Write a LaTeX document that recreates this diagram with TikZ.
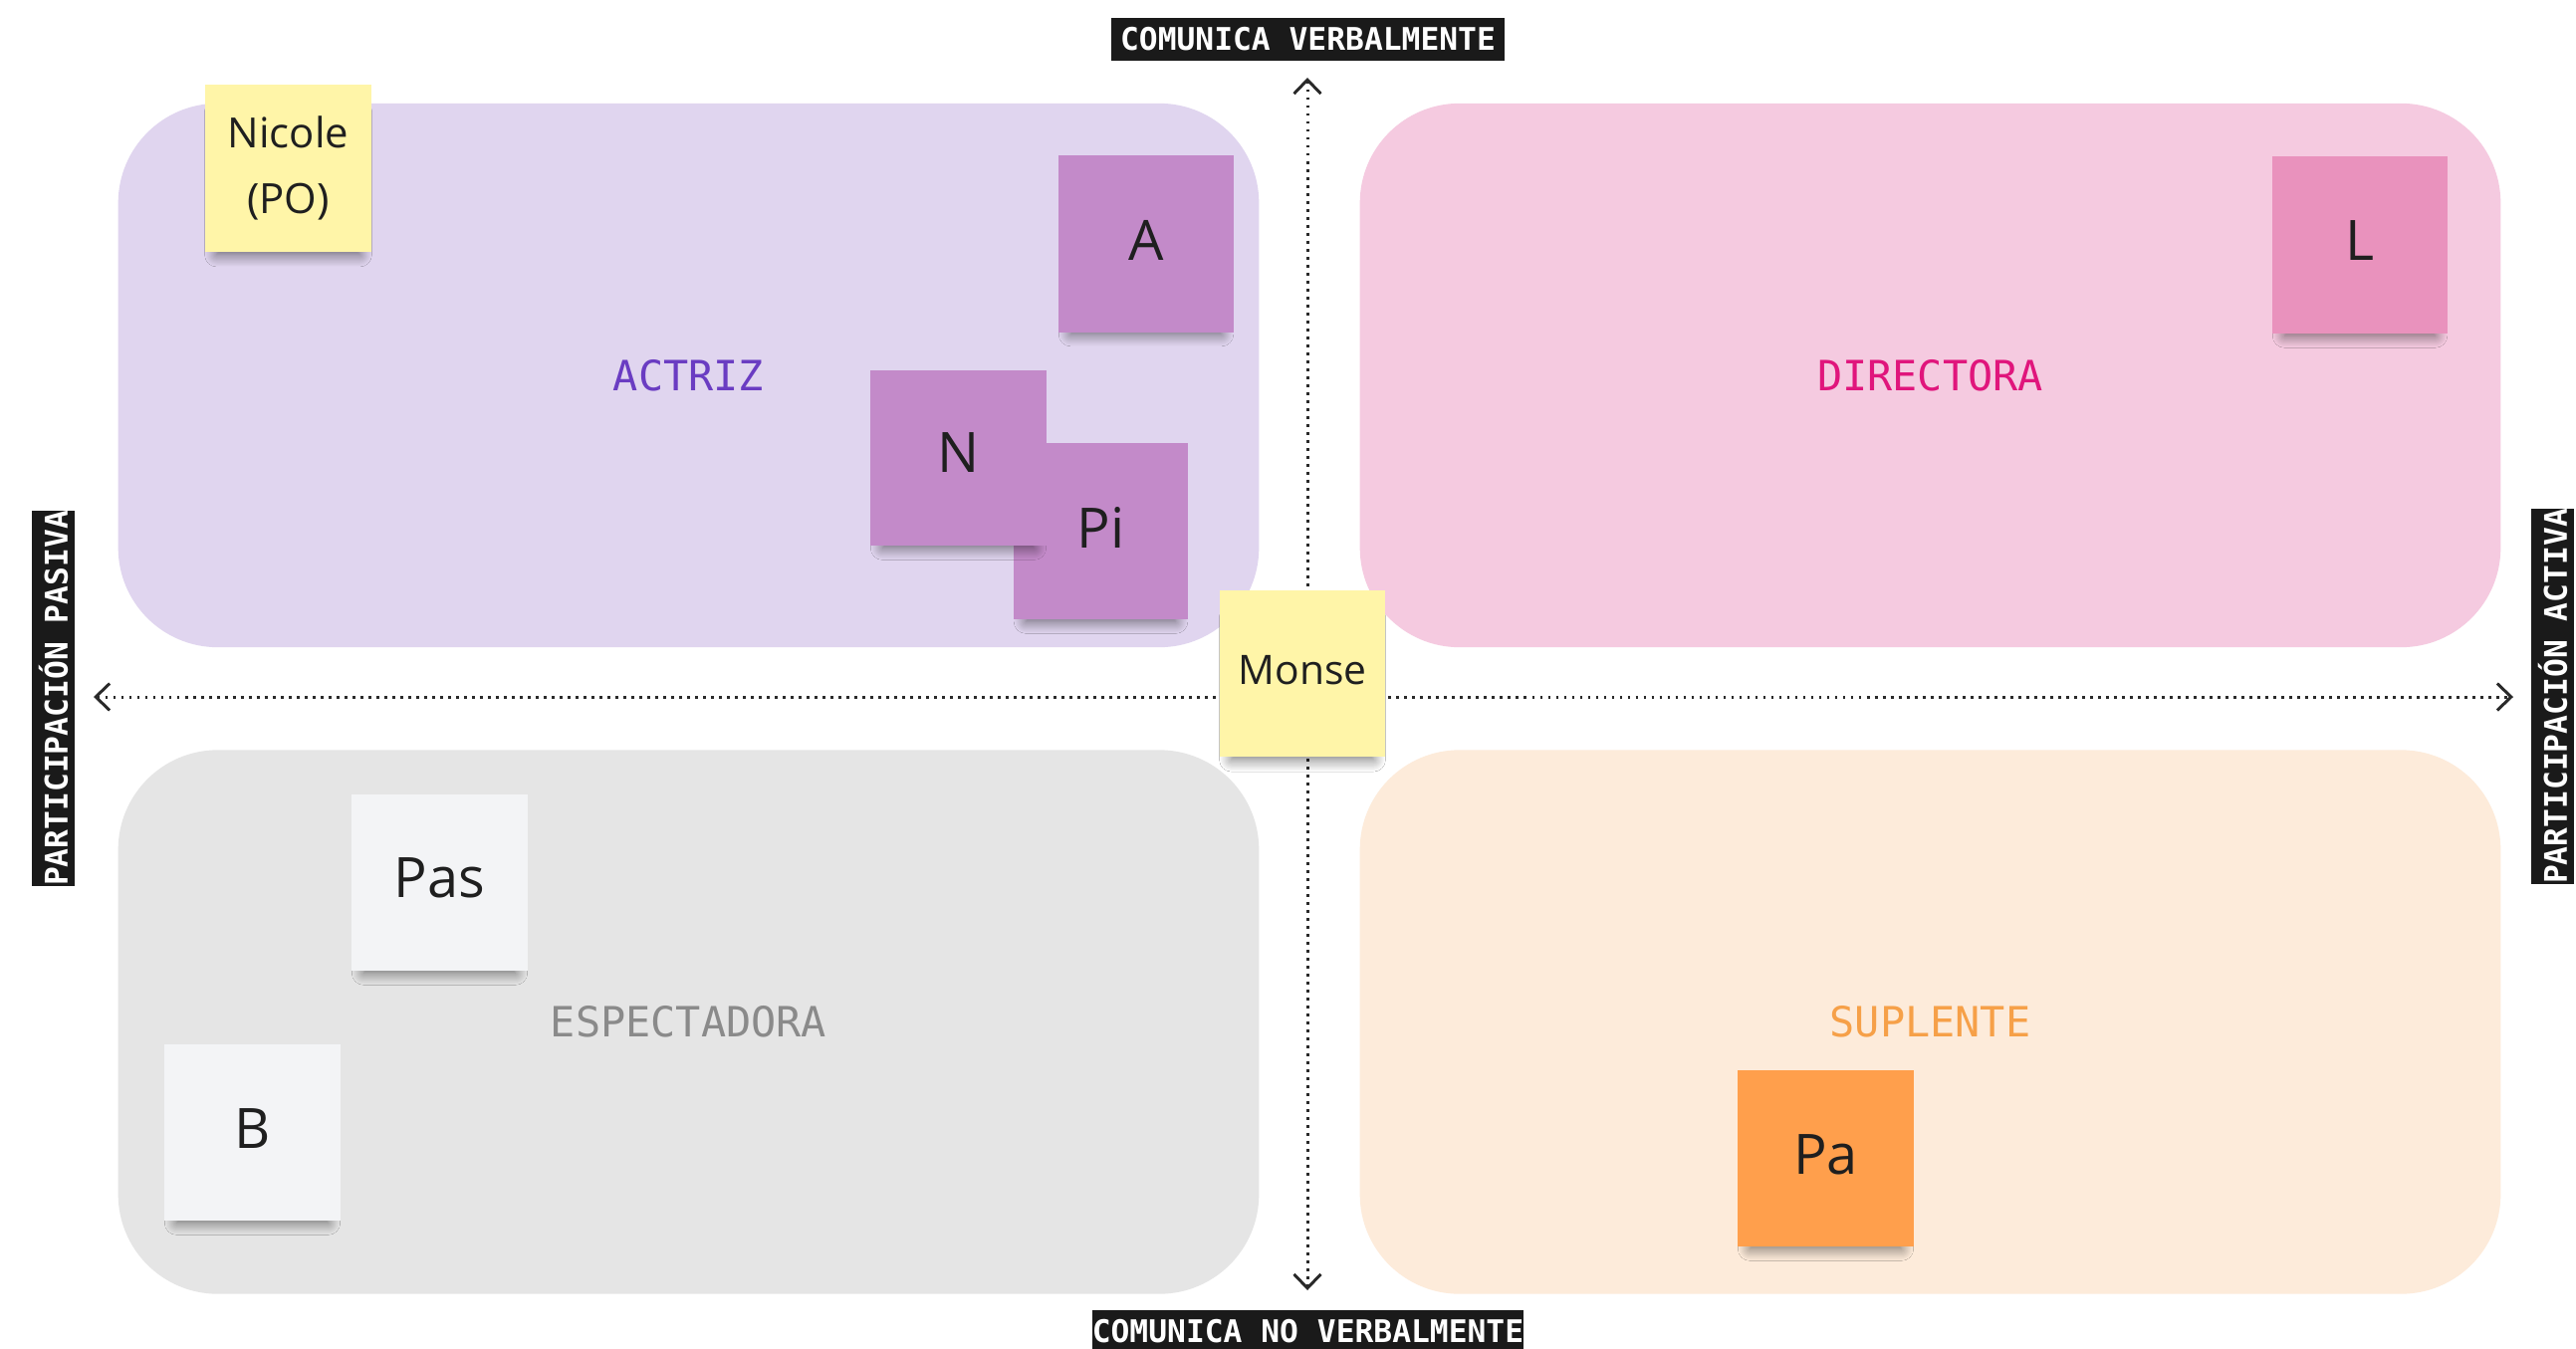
\documentclass[tikz,border=0pt]{standalone}
\usepackage{fontspec}
\setmainfont{Open Sans}
\setmonofont{DejaVu Sans Mono}
\usetikzlibrary{arrows.meta,shadows.blur}
\definecolor{qpurple}{HTML}{E0D5EF}
\definecolor{qpink}{HTML}{F5CAE0}
\definecolor{qgrey}{HTML}{E5E5E5}
\definecolor{qpeach}{HTML}{FDEBDA}
\definecolor{spurple}{HTML}{C38AC9}
\definecolor{spink}{HTML}{E992BD}
\definecolor{syellow}{HTML}{FFF5A8}
\definecolor{swhite}{HTML}{F3F4F6}
\definecolor{sorange}{HTML}{FF9F4C}
\definecolor{tpurple}{HTML}{6A3CC2}
\definecolor{tpink}{HTML}{E0157C}
\definecolor{tgrey}{HTML}{8A8A8A}
\definecolor{torange}{HTML}{F6A048}
\definecolor{labelbg}{HTML}{1A1A1A}
\definecolor{axiscol}{HTML}{2A2A2A}
\begin{document}
\begin{tikzpicture}[x=0.01cm,y=-0.01cm,
  quad/.style={rectangle, rounded corners=1cm, minimum width=11.45cm, minimum height=5.46cm, inner sep=0pt, font=\ttfamily\fontsize{11.9}{14}\selectfont},
  sticky/.style={rectangle, minimum width=1.76cm, minimum height=1.77cm, inner sep=0pt, text=black!88,
    blur shadow={shadow xshift=0cm, shadow yshift=-0.17cm, shadow scale=0.86, shadow opacity=55, shadow blur radius=0.14cm, shadow blur steps=12}},
  big/.style={font=\fontsize{15.9}{19}\selectfont},
  small/.style={font=\fontsize{11.9}{17}\selectfont, align=center},
  axislabel/.style={fill=labelbg, text=white, font=\ttfamily\bfseries\fontsize{8.9}{10}\selectfont, inner sep=0pt, minimum height=0.43cm},
  axis/.style={draw=axiscol, line width=0.85pt, dash pattern=on 0.028cm off 0.052cm,
    {Straight Barb[length=0.14cm,width=0.27cm]}-{Straight Barb[length=0.14cm,width=0.27cm]}}
]
\useasboundingbox (0,0) rectangle (2587,1354);
\fill[white] (0,0) rectangle (2587,1354);

% quadrants
\node[quad, fill=qpurple, text=tpurple] (actriz) at (691.5,377) {ACTRIZ};
\node[quad, fill=qpink, text=tpink] (directora) at (1938.5,377) {DIRECTORA};
\node[quad, fill=qgrey, text=tgrey] (espectadora) at (691.5,1026.5) {ESPECTADORA};
\node[quad, fill=qpeach, text=torange] (suplente) at (1938.5,1026.5) {SUPLENTE};

% axes
\coordinate (west) at (94,700);
\coordinate (east) at (2524,700);
\coordinate (north) at (1313,78);
\coordinate (south) at (1313,1296);
\draw[axis] (west) -- (east);
\draw[axis] (north) -- (south);

% axis labels
\node[axislabel, minimum width=3.95cm] (toplabel) at (1313.5,39.5) {COMUNICA VERBALMENTE};
\node[axislabel, minimum width=4.33cm] (bottomlabel) at (1313.5,1337) {COMUNICA NO VERBALMENTE};
\node[axislabel, minimum width=3.77cm, rotate=90] (leftlabel) at (53.5,701.5) {PARTICIPACIÓN PASIVA};
\node[axislabel, minimum width=3.75cm, rotate=90] (rightlabel) at (2563.5,699.5) {PARTICIPACIÓN ACTIVA};

% sticky notes
\node[sticky, small, fill=syellow, minimum width=1.67cm, minimum height=1.68cm] (nicole) at (289.5,169) {\raisebox{0.06cm}{Nicole}\\(PO)};
\node[sticky, big, fill=spurple] (a) at (1151,245) {\raisebox{0.08cm}{A}};
\node[sticky, big, fill=spink, minimum height=1.78cm] (l) at (2370,246) {\raisebox{0.08cm}{L}};
\node[sticky, big, fill=spurple, minimum width=1.75cm] (pi) at (1105.5,533.5) {\raisebox{0.08cm}{Pi}};
\node[sticky, big, fill=spurple, minimum width=1.77cm, minimum height=1.76cm] (n) at (962.5,460) {\raisebox{0.1cm}{N}};
\node[sticky, small, fill=syellow, minimum width=1.66cm, minimum height=1.67cm, font=\fontsize{11.6}{14}\selectfont] (monse) at (1308,676.5) {\raisebox{0.07cm}{Monse}};
\node[sticky, big, fill=swhite, minimum width=1.77cm] (pas) at (441.5,886.5) {\raisebox{0.09cm}{Pas}};
\node[sticky, big, fill=swhite, minimum width=1.77cm] (b) at (253.5,1137.5) {\raisebox{0.08cm}{B}};
\node[sticky, big, fill=sorange, minimum width=1.77cm] (pa) at (1833.5,1163.5) {\raisebox{0.08cm}{Pa}};
\end{tikzpicture}
\end{document}
